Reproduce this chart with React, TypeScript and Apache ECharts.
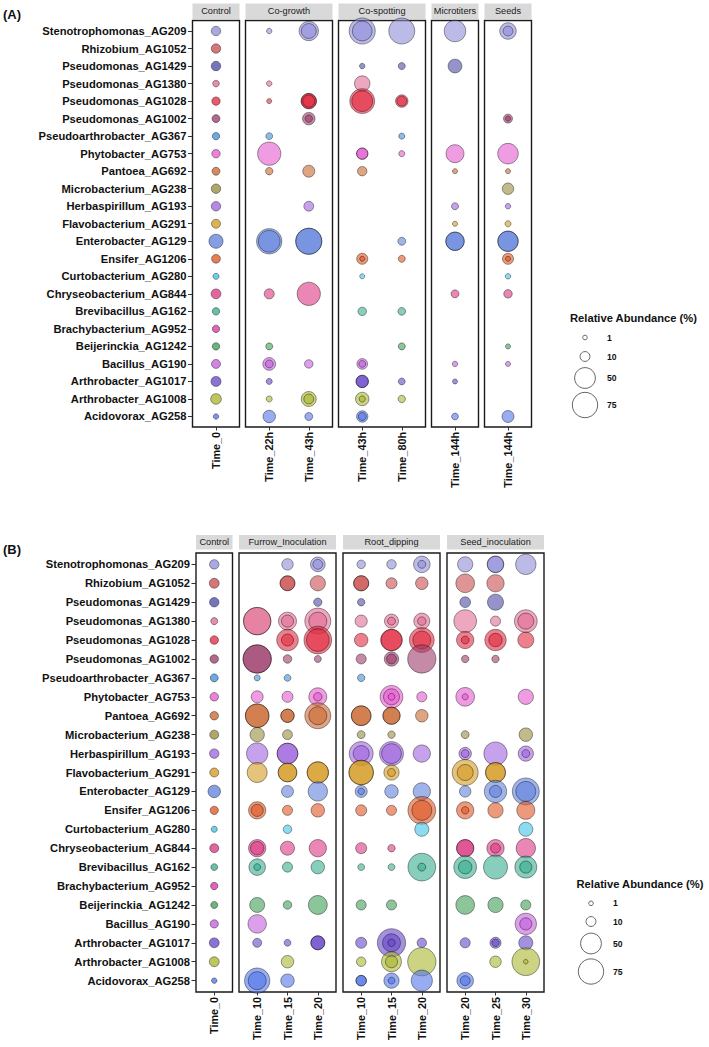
import React, { useEffect, useRef } from 'react';
import * as echarts from 'echarts';

const species = [
  'Stenotrophomonas_AG209', 'Rhizobium_AG1052', 'Pseudomonas_AG1429', 'Pseudomonas_AG1380',
  'Pseudomonas_AG1028', 'Pseudomonas_AG1002', 'Pseudoarthrobacter_AG367', 'Phytobacter_AG753',
  'Pantoea_AG692', 'Microbacterium_AG238', 'Herbaspirillum_AG193', 'Flavobacterium_AG291',
  'Enterobacter_AG129', 'Ensifer_AG1206', 'Curtobacterium_AG280', 'Chryseobacterium_AG844',
  'Brevibacillus_AG162', 'Brachybacterium_AG952', 'Beijerinckia_AG1242', 'Bacillus_AG190',
  'Arthrobacter_AG1017', 'Arthrobacter_AG1008', 'Acidovorax_AG258',
];

const speciesColors = [
  '#8e8cd8', '#c94c4c', '#4a4aa6', '#e06a92', '#e3293f', '#9b3a68', '#3d8fd9', '#e658cf',
  '#c9652f', '#958b3c', '#9d62dd', '#d4991f', '#5f80dc', '#df5420', '#3ec3e6', '#dc3480',
  '#34ad8f', '#d8339f', '#3c9d55', '#c35ddd', '#6646c8', '#a9b52c', '#5072e8',
];

// Relative abundance (%) per species row; [outer, inner] = overlapping replicates; 0 = absent
const A_Control_T0 = [9, 9, 9, 3.7, 6.8, 6, 5, 6.8, 6, 9, 9, 8, 22, 7.5, 2.8, 10, 5, 5, 5, 8, 10.4, 12, 2];
const A_CoGrowth_22h = [2, 0, 0, 2, 1.5, 0, 4, 63, 5, 0, 0, 0, [75, 55], 0, 0, 10.5, 0, 0, 4.3, [18, 6], 2.8, 2.8, 17];
const A_CoGrowth_43h = [[43, 25], 0, 0, 0, [27, 25, 16], [17, 5], 0, 0, 15.6, 0, 10, 0, [80, 79], 0, 0, 63, 0, 0, 0, 7, 0, [25, 10], 6];
const A_CoSpot_43h = [[80, 45], 0, 2, 27, [72, 50], 0, 0, [14, 13], 9, 0, 0, 0, 0, [13, 1.5], 1.5, 0, 7, 0, 0, [12, 4], [17, 16], [20, 3], [14, 6]];
const A_CoSpot_80h = [79, 0, 4.3, 0, [17, 10], 0, 2.8, 2.8, 0, 0, 0, 0, 6, 4.3, 0, 0, 5.5, 0, 4.3, 0, 4, 5, 0];
const A_Micro_144h = [54, 0, 21, 0, 0, 0, 0, 37, 1.5, 0, 4.3, 1.5, [39, 38], 0, 0, 6, 0, 0, 0, 2, 1.5, 0, 4];
const A_Seeds_144h = [[31, 10], 0, 0, 0, 0, [8, 1.5], 0, 49, 1.5, 14, 2, 2.8, [48, 47], [13, 1.5], 2, 7, 0, 0, 1.5, 1.5, 0, 0, 15.6];

const B_Control_T0 = [9, 10, 9, 4.3, 7, 7, 6, 7, 7, 8, 9, 8, 17, 6.5, 2.8, 8, 4, 5, 4.3, 6.5, 10, 10, 2];
const B_Furrow_10 = [0, 0, 0, [88, 87], 0, [94, 93], 2.8, 15.6, [65, 64], 23, 53, 46, 0, [34, 16], 0, [34, 20], [31, 4], 0, 25, 39, 8, 0, [75, 37]];
const B_Furrow_15 = [14, [25, 24], 0, [37, 16], [54, 16], 7, 4, 13, [20, 19], 10, [50, 49], [40, 39], 15.6, 10.5, 7, 22, 10.5, 0, 7, 0, 4, 17, 20];
const B_Furrow_20 = [[24, 10], 26, 6.5, [79, 37], [90, 60], 4.3, 0, [37, 7], [79, 37], 0, 0, [53, 52], 43, 20, 0, 34, 20, 0, 41, 0, [22, 21], 0, 0];
const B_Root_10 = [7, [26, 25], 5, 16, 20, 10.5, 5, 0, [45, 44], 6, [67, 29], [70, 69], [15.6, 3.5], 13, 0, 13, 4, 0, 10.5, 0, 13, 9, [12, 11]];
const B_Root_15 = [9, 13, 0, [22, 6], [53, 52], [23, 10], 0, [60, 29, 4], [34, 33], 5, [67, 45], [26, 6], 20, 10.5, 0, 5, 4, 0, 10.5, 0, [94, 37, 5], [46, 16], [26, 4]];
const B_Root_20 = [[31, 6], 17, 0, [29, 7], [72, 37], 94, 0, 10.5, 17, 0, 34, 0, 34, [90, 46], 22, 0, [90, 6], 0, 0, 0, 9, 94, 52];
const B_Seed_20 = [26, 40, 12, 60, [34, 6], 5, 0, [40, 3], 0, 6, [17, 6], [79, 29], 14, [34, 5], 0, [34, 33], [60, 20], 0, 40, 0, 10.5, 0, [31, 10]];
const B_Seed_25 = [[31, 30], 34, 29, 10.5, [53, 20], 5, 0, 0, 0, 0, 63, [46, 45], [58, 16], 26, 0, [34, 10], 67, 0, 26, 0, [13, 5], 14, 0];
const B_Seed_30 = [48, 0, 0, [60, 29], 29, 0, 0, 26, 0, 20, [26, 6], 0, [85, 46], 37, 22, 43, [56, 16], 0, 10.5, [53, 16], 22, [90, 1], 0];

const legendValues = [1, 10, 50, 75];

type Cell = number | number[];
type Facet = { name: string; times: string[]; cols: Cell[][]; solid?: boolean };

const panelA: Facet[] = [
  { name: 'Control', times: ['Time_0'], cols: [A_Control_T0], solid: true },
  { name: 'Co-growth', times: ['Time_22h', 'Time_43h'], cols: [A_CoGrowth_22h, A_CoGrowth_43h] },
  { name: 'Co-spotting', times: ['Time_43h', 'Time_80h'], cols: [A_CoSpot_43h, A_CoSpot_80h] },
  { name: 'Microtiters', times: ['Time_144h'], cols: [A_Micro_144h] },
  { name: 'Seeds', times: ['Time_144h'], cols: [A_Seeds_144h] },
];

const panelB: Facet[] = [
  { name: 'Control', times: ['Time_0'], cols: [B_Control_T0], solid: true },
  { name: 'Furrow_Inoculation', times: ['Time_10', 'Time_15', 'Time_20'], cols: [B_Furrow_10, B_Furrow_15, B_Furrow_20] },
  { name: 'Root_dipping', times: ['Time_10', 'Time_15', 'Time_20'], cols: [B_Root_10, B_Root_15, B_Root_20] },
  { name: 'Seed_inoculation', times: ['Time_20', 'Time_25', 'Time_30'], cols: [B_Seed_20, B_Seed_25, B_Seed_30] },
];

const LAYOUT_A = {
  top: 20.5, bottom: 427, stripTop: 3.5, stripBottom: 19.3,
  xs: [[192.5, 239.5], [245.5, 332.5], [338.5, 425.5], [431.5, 478.5], [484.5, 531.5]],
  tag: { text: '(A)', x: 3, y: 14 },
  legend: { titleX: 570, titleY: 318, cx: 585, ys: [337.5, 356.5, 378, 405], labelX: 607 },
};
const LAYOUT_B = {
  top: 553, bottom: 992, stripTop: 535, stripBottom: 549.5,
  xs: [[196, 232.5], [239, 336], [343, 440], [447, 544]],
  tag: { text: '(B)', x: 3, y: 549 },
  legend: { titleX: 576.5, titleY: 884, cx: 591, ys: [903.3, 921.5, 943.5, 971.5], labelX: 613 },
};

const FONT = "'Liberation Sans', Arial, sans-serif";
const sizeOf = (v: number) => 2 * Math.sqrt(3.2 + 2.1 * v);

function rgba(hex: string, a: number) {
  const n = parseInt(hex.slice(1), 16);
  return `rgba(${(n >> 16) & 255},${(n >> 8) & 255},${n & 255},${a})`;
}

function buildOption() {
  const grid: any[] = [];
  const xAxis: any[] = [];
  const yAxis: any[] = [];
  const series: any[] = [];
  const graphic: any[] = [];
  const rows = species.map((_, i) => i);
  let gi = 0;

  const build = (panel: Facet[], L: any) => {
    panel.forEach((f, k) => {
      const [l, r] = L.xs[k];
      grid.push({
        left: l, top: L.top, width: r - l, height: L.bottom - L.top,
        show: true, borderColor: '#1a1a1a', borderWidth: 1.4, containLabel: false,
      });
      const n = f.times.length;
      const idx = f.times.map((_, i) => i);
      xAxis.push({
        type: 'value', gridIndex: gi, min: -0.6, max: n - 0.4, position: 'bottom',
        axisLine: { show: false, onZero: false }, splitLine: { show: false },
        axisTick: { show: true, customValues: idx, length: 3.5, lineStyle: { color: '#333', width: 1 } },
        axisLabel: {
          customValues: idx, formatter: (v: number) => f.times[Math.round(v)] ?? '',
          rotate: 90, margin: 5, fontSize: 10.8, fontWeight: 'bold', color: '#111', fontFamily: FONT,
        },
      });
      yAxis.push({
        type: 'value', gridIndex: gi, min: -0.6, max: species.length - 0.4, inverse: true, position: 'left',
        axisLine: { show: false, onZero: false }, splitLine: { show: false },
        axisTick: { show: k === 0, customValues: rows, length: 4.5, lineStyle: { color: '#333', width: 1 } },
        axisLabel: {
          show: k === 0, customValues: rows, formatter: (v: number) => species[Math.round(v)] ?? '',
          margin: 6, fontSize: 11.2, fontWeight: 'bold', color: '#111', fontFamily: FONT,
        },
      });
      const data: any[] = [];
      f.cols.forEach((col, t) => {
        col.forEach((cell, j) => {
          const vals = (Array.isArray(cell) ? cell.slice() : cell ? [cell] : []).sort((a, b) => b - a);
          vals.forEach((v) => {
            data.push({ value: [t, j, v], itemStyle: { color: rgba(speciesColors[j], f.solid ? 0.95 : 0.74) } });
          });
        });
      });
      series.push({
        type: 'scatter', xAxisIndex: gi, yAxisIndex: gi, data, clip: false, silent: true,
        symbolSize: (val: number[]) => sizeOf(val[2]),
        itemStyle: { borderColor: 'rgba(0,0,0,0.62)', borderWidth: 0.8 },
      });
      graphic.push({
        type: 'rect', shape: { x: l, y: L.stripTop, width: r - l, height: L.stripBottom - L.stripTop },
        style: { fill: '#d9d9d9' }, silent: true,
      });
      graphic.push({
        type: 'text', x: (l + r) / 2, y: (L.stripTop + L.stripBottom) / 2,
        style: { text: f.name, fill: '#1a1a1a', font: `9.2px ${FONT}`, align: 'center', verticalAlign: 'middle' },
        silent: true,
      });
      gi++;
    });
    graphic.push({
      type: 'text', x: L.tag.x, y: L.tag.y,
      style: { text: L.tag.text, fill: '#111', font: `bold 13px ${FONT}`, align: 'left', verticalAlign: 'middle' },
    });
    const lg = L.legend;
    graphic.push({
      type: 'text', x: lg.titleX, y: lg.titleY,
      style: { text: 'Relative Abundance (%)', fill: '#111', font: `bold 11.2px ${FONT}`, align: 'left', verticalAlign: 'middle' },
    });
    legendValues.forEach((v, i) => {
      graphic.push({
        type: 'circle', shape: { cx: lg.cx, cy: lg.ys[i], r: sizeOf(v) / 2 },
        style: { fill: '#fff', stroke: '#555', lineWidth: 0.9 },
      });
      graphic.push({
        type: 'text', x: lg.labelX, y: lg.ys[i],
        style: { text: String(v), fill: '#111', font: `bold 8.6px ${FONT}`, align: 'left', verticalAlign: 'middle' },
      });
    });
  };

  build(panelA, LAYOUT_A);
  build(panelB, LAYOUT_B);

  return {
    animation: false,
    backgroundColor: '#ffffff',
    grid, xAxis, yAxis, series, graphic,
  };
}

export default function App() {
  const ref = useRef<HTMLDivElement>(null);
  useEffect(() => {
    document.body.style.margin = '0';
    if (!ref.current) return;
    const chart = echarts.init(ref.current, undefined, { renderer: 'svg' });
    chart.setOption(buildOption() as any);
    return () => chart.dispose();
  }, []);
  return <div ref={ref} style={{ width: 709, height: 1047, position: 'absolute', left: 0, top: 0 }} />;
}
